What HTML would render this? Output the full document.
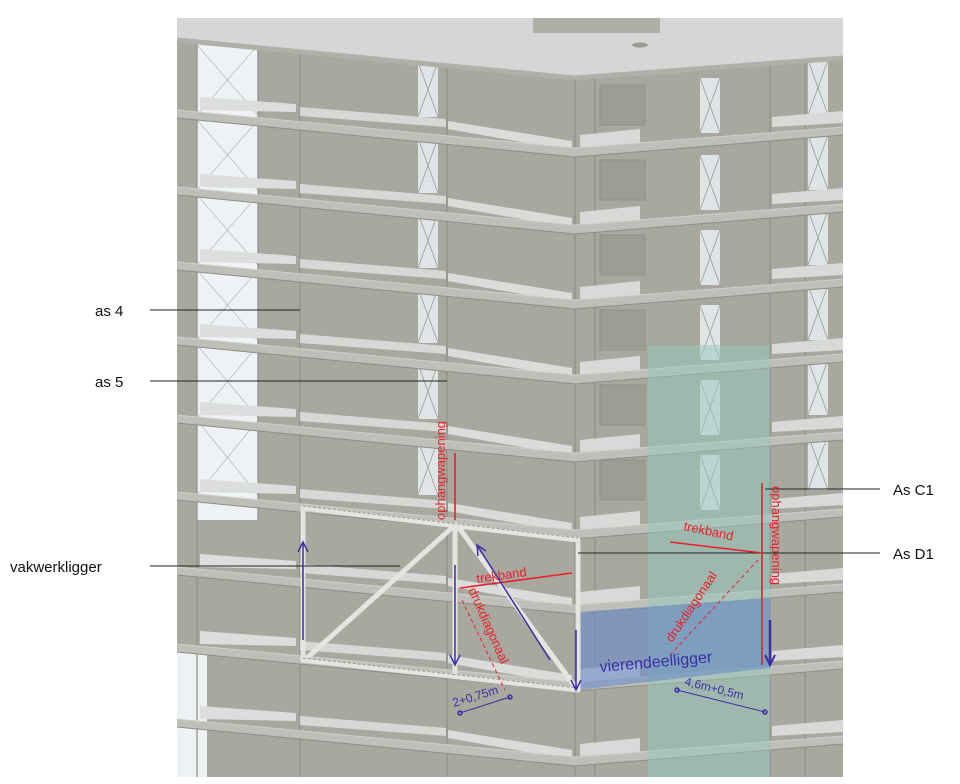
<!DOCTYPE html>
<html><head><meta charset="utf-8"><style>
html,body{margin:0;padding:0;background:#fff;}
svg{display:block;}
text{font-family:"Liberation Sans",sans-serif;}
</style></head><body>
<svg width="960" height="784" viewBox="0 0 960 784" xmlns="http://www.w3.org/2000/svg">
<defs>
<g id="fl">
  <polygon points="200,-16 296,-9 296,-1 200,-3" fill="#dcdedd"/>
  <polygon points="300,-6 446,6 446,14 300,3" fill="#d6d8d6"/>
  <polygon points="448,8 572,28 572,38 448,16" fill="#dadcda"/>
  <polygon points="580,22 640,16 640,34 580,36" fill="#d8dad8"/>
  <polygon points="772,4 843,-2 843,10 772,14" fill="#d8dad8"/>
  <polygon points="177,-3 575,35 843,14 843,22 575,44 177,5" fill="#bebfb8"/>
  <polyline points="177,-3 575,35 843,14" fill="none" stroke="#d0d1cb" stroke-width="1"/>
  <polyline points="177,5 575,44 843,22" fill="none" stroke="#8e8d85" stroke-width="1"/>
</g>
<g id="xw">
  <rect x="0" y="0" width="20" height="55" fill="#dfe4e6"/>
  <path d="M0,0 L20,55 M20,0 L0,55" stroke="#9a9a92" stroke-width="0.8"/>
</g>
</defs>
<rect x="177" y="18" width="666" height="759" fill="#a9a89f"/>
<!-- sky window column -->
<rect x="197" y="40" width="61" height="480" fill="#eef2f5"/>
<rect x="177" y="650" width="30" height="127" fill="#eef2f5"/>
<g stroke="#b7bcbf" stroke-width="0.8">
<path d="M197,45 L258,115 M258,45 L197,115 M197,120 L258,190 M258,120 L197,190 M197,195 L258,265 M258,195 L197,265 M197,270 L258,340 M258,270 L197,340 M197,345 L258,418 M258,345 L197,418 M197,420 L258,495 M258,420 L197,495"/>
</g>
<!-- verticals -->
<g stroke="#8f8e86" stroke-width="1.2">
<line x1="197" y1="40" x2="197" y2="777"/><line x1="258" y1="40" x2="258" y2="520"/>
<line x1="300" y1="40" x2="300" y2="777"/><line x1="447" y1="60" x2="447" y2="777"/>
<line x1="575" y1="75" x2="575" y2="777"/><line x1="595" y1="75" x2="595" y2="777"/>
<line x1="770" y1="60" x2="770" y2="777"/><line x1="805" y1="60" x2="805" y2="777"/>
</g>
<!-- shaft windows -->
<use href="#xw" x="418" y="62"/><use href="#xw" x="418" y="138"/><use href="#xw" x="418" y="213"/><use href="#xw" x="418" y="288"/><use href="#xw" x="418" y="364"/><use href="#xw" x="418" y="440"/>
<use href="#xw" x="700" y="78"/><use href="#xw" x="700" y="155"/><use href="#xw" x="700" y="230"/><use href="#xw" x="700" y="305"/><use href="#xw" x="700" y="380"/><use href="#xw" x="700" y="455"/>
<use href="#xw" x="808" y="60"/><use href="#xw" x="808" y="135"/><use href="#xw" x="808" y="210"/><use href="#xw" x="808" y="285"/><use href="#xw" x="808" y="360"/><use href="#xw" x="808" y="435"/>
<g fill="#9e9d95" stroke="#8c8b83" stroke-width="0.8">
<rect x="600" y="85" width="45" height="40"/><rect x="600" y="160" width="45" height="40"/><rect x="600" y="235" width="45" height="40"/><rect x="600" y="310" width="45" height="40"/><rect x="600" y="385" width="45" height="40"/><rect x="600" y="460" width="45" height="40"/>
</g>
<!-- roof -->
<polygon points="177,18 843,18 843,58 575,78 177,40" fill="#d4d7d6"/>
<polyline points="177,40 575,78 843,58" fill="none" stroke="#b0b0a9" stroke-width="5"/>
<rect x="533" y="18" width="127" height="15" fill="#b0afa6"/>
<ellipse cx="640" cy="45" rx="8" ry="2.5" fill="#9a9a94"/>
<!-- floors -->
<use href="#fl" y="113"/><use href="#fl" y="190"/><use href="#fl" y="265"/><use href="#fl" y="340"/><use href="#fl" y="418"/><use href="#fl" y="495"/><use href="#fl" y="570"/><use href="#fl" y="647"/><use href="#fl" y="722"/>
<!-- teal column -->
<rect x="648" y="345" width="122" height="432" fill="rgba(150,200,190,0.5)"/>
<!-- vierendeel box -->
<polygon points="577,612 770,598 770,668 577,690" fill="rgba(105,140,200,0.6)"/>
<!-- truss -->
<g stroke="#e4e4e0" stroke-width="5" stroke-linecap="round">
<line x1="303" y1="508" x2="578" y2="540"/><line x1="303" y1="660" x2="578" y2="690"/>
<line x1="303" y1="510" x2="303" y2="660"/><line x1="455" y1="525" x2="455" y2="675"/><line x1="578" y1="540" x2="578" y2="690"/>
<line x1="455" y1="525" x2="307" y2="658"/><line x1="457" y1="525" x2="576" y2="688"/>
</g>
<g stroke="#999890" stroke-width="1" stroke-dasharray="3,2">
<line x1="303" y1="506" x2="578" y2="538"/><line x1="303" y1="658" x2="578" y2="688"/>
</g>
<rect x="177" y="777" width="666" height="7" fill="#fff"/>
<!-- leader lines -->
<g stroke="#222" stroke-width="1">
<line x1="150" y1="310" x2="300" y2="310"/><line x1="150" y1="381" x2="447" y2="381"/>
<line x1="150" y1="566" x2="400" y2="566"/><line x1="765" y1="489" x2="880" y2="489"/>
<line x1="578" y1="553" x2="880" y2="553"/>
</g>
<g font-size="15" fill="#111">
<text x="95" y="316">as 4</text><text x="95" y="387">as 5</text>
<text x="10" y="572">vakwerkligger</text><text x="893" y="495">As C1</text><text x="893" y="559">As D1</text>
</g>
<!-- red -->
<g stroke="#e8202a" stroke-width="1.6" fill="none">
<line x1="455" y1="453" x2="455" y2="520"/><line x1="762" y1="483" x2="762" y2="665"/>
<line x1="460" y1="588" x2="572" y2="573"/><line x1="670" y1="542" x2="762" y2="553"/>
</g>
<g fill="#e8202a" font-size="13">
<text transform="translate(445,520) rotate(-90)">ophangwapening</text>
<text transform="translate(772,486) rotate(90)">ophangwapening</text>
<text transform="translate(477,583) rotate(-8)">trekband</text>
<text transform="translate(683,530) rotate(12)">trekband</text>
<text transform="translate(468,590) rotate(66)">drukdiagonaal</text>
<text transform="translate(672,643) rotate(-56)">drukdiagonaal</text>
</g>
<g stroke="#e8202a" stroke-width="1" stroke-dasharray="4,3">
<line x1="462" y1="600" x2="505" y2="690"/><line x1="670" y1="655" x2="758" y2="560"/>
</g>
<!-- blue arrows -->
<g stroke="#3c2fa6" stroke-width="1.5" fill="none">
<line x1="303" y1="640" x2="303" y2="542"/><path d="M298,552 L303,542 L308,552"/>
<line x1="455" y1="565" x2="455" y2="665"/><path d="M450,655 L455,665 L460,655"/>
<line x1="550" y1="660" x2="477" y2="545"/><path d="M478,556 L477,545 L486,551"/>
<line x1="576" y1="630" x2="576" y2="690"/><path d="M571,680 L576,690 L581,680"/>
<line x1="770" y1="620" x2="770" y2="665" stroke-width="2.5"/><path d="M765,655 L770,665 L775,655" stroke-width="2"/>
<line x1="460" y1="713" x2="510" y2="697" stroke-width="1"/><line x1="677" y1="690" x2="765" y2="712" stroke-width="1"/>
<circle cx="460" cy="713" r="2"/><circle cx="510" cy="697" r="2"/><circle cx="677" cy="690" r="2"/><circle cx="765" cy="712" r="2"/>
</g>
<g fill="#3c2fa6">
<text transform="translate(600,672) rotate(-5)" font-size="16">vierendeelligger</text>
<text transform="translate(454,707) rotate(-17)" font-size="12">2+0,75m</text>
<text transform="translate(684,685) rotate(14)" font-size="12">4,6m+0,5m</text>
</g>
</svg>
</body></html>
